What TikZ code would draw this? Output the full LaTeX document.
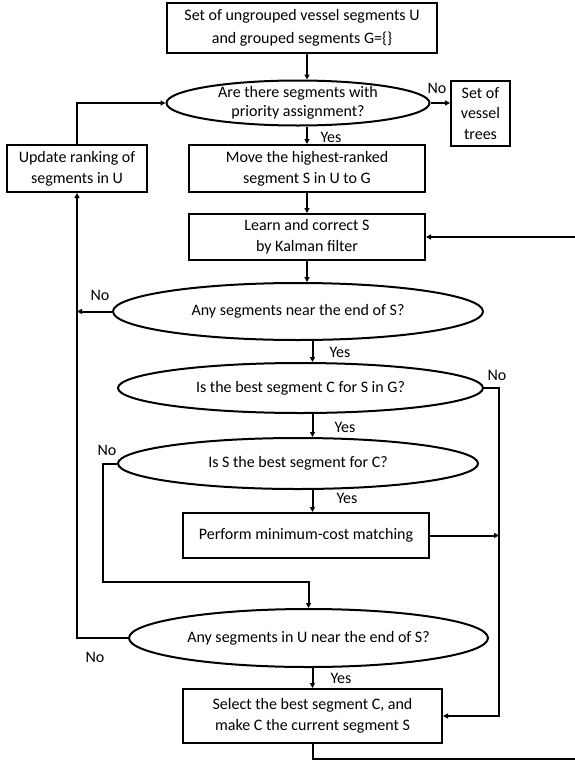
\documentclass[tikz,border=0pt]{standalone}
\usepackage{fontspec}
\setmainfont{Carlito}
\usetikzlibrary{arrows.meta,positioning,shapes.geometric}

\begin{document}
\begin{tikzpicture}[
        x=1pt, y=-1pt,
        line width=2pt,
        >={Triangle[length=5pt,width=5pt]},
        every node/.style={align=center, inner sep=0pt, font=\fontsize{16}{21}\selectfont},
        procbox/.style={draw, rectangle},
        decision/.style={draw, ellipse, inner sep=-14pt},
        lbl/.style={font=\fontsize{16}{18}\selectfont}
    ]
    \useasboundingbox (0,0) rectangle (575,763);

    % main column
    \node (init) [procbox, minimum width=270pt, minimum height=50pt, font=\fontsize{16}{23}\selectfont] at (302,28) {Set of ungrouped vessel segments U\\and grouped segments G=\{\}};
    \node (prio) [decision, minimum width=263pt, minimum height=45pt, font=\fontsize{16}{19}\selectfont] at (298,103) {Are there segments with\\priority assignment?};
    \node (trees) [procbox, minimum width=59pt, minimum height=65pt, font=\fontsize{16}{20.5}\selectfont] at (480.5,113.5) {Set of\\vessel\\trees};
    \node (update) [procbox, minimum width=140pt, minimum height=47pt] at (77,168.5) {Update ranking of\\segments in U};
    \node (move) [procbox, minimum width=236pt, minimum height=47pt] at (307,168.5) {Move the highest-ranked\\segment S in U to G};
    \node (learn) [procbox, minimum width=236pt, minimum height=46pt] at (307,237) {Learn and correct S\\by Kalman filter};
    \node (nearS) [decision, minimum width=370pt, minimum height=57pt] at (298,311.5) {Any segments near the end of S?};
    \node (bestC) [decision, minimum width=365pt, minimum height=50pt] at (300.5,388) {Is the best segment C for S in G?};
    \node (bestS) [decision, minimum width=360pt, minimum height=51pt] at (298,463.5) {Is S the best segment for C?};
    \node (match) [procbox, minimum width=246pt, minimum height=45pt] at (306,535.5) {Perform minimum-cost matching};
    \node (nearU) [decision, minimum width=359pt, minimum height=58pt] at (308.5,638) {Any segments in U near the end of S?};
    \node (select) [procbox, minimum width=259pt, minimum height=54pt] at (312.5,716) {Select the best segment C, and\\make C the current segment S};

    % bends of the side lines
    \coordinate (rline) at (499,388);
    \coordinate (lline) at (103,582);
    \coordinate (loopR) at (585,759);

    % labels
    \node [lbl] at (437,88) {No};
    \node [lbl] at (331,137) {Yes};
    \node [lbl] at (100,295) {No};
    \node [lbl] at (340,352) {Yes};
    \node [lbl] at (497,375) {No};
    \node [lbl] at (345,427) {Yes};
    \node [lbl] at (107,450) {No};
    \node [lbl] at (347,498) {Yes};
    \node [lbl] at (95,657) {No};
    \node [lbl] at (341,678) {Yes};

    \draw[->] (init.south -| move) -- (prio.north -| move);
    \draw[->] (prio.south -| move) -- (move.north);
    \draw[->] (prio.east) -- (prio.east -| trees.west);
    \draw[->] (update.north) |- (prio.west);
    \draw[->] (move.south) -- (learn.north);
    \draw[->] (learn.south) -- (nearS.north -| learn);
    \draw[->] (nearS.west) -- (nearS.west -| update);
    \draw[->] (nearS.south -| select) -- (bestC.north -| select);
    \draw[->] (bestC.east) -- (bestC.east -| rline) |- (select.east);
    \draw[->] (bestC.south -| select) -- (bestS.north -| select);
    \draw[->] (bestS.west) -| (lline) -| (nearU.north);
    \draw[->] (bestS.south -| select) -- (match.north -| select);
    \draw[->] (match.east) -- (match.east -| rline);
    \draw[->] (nearU.west) -| (update.south);
    \draw[->] (nearU.south -| select) -- (select.north);
    \draw[->] (select.south) |- (loopR) |- (learn.east);
    \end{tikzpicture}
\end{document}
